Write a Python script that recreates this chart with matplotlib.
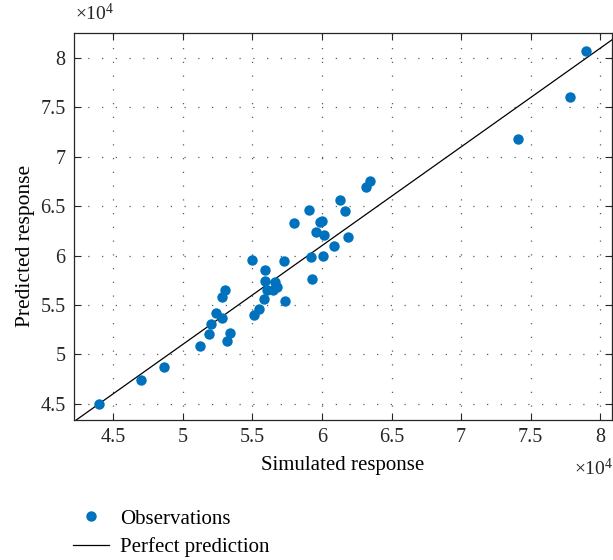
import numpy as np
import matplotlib
matplotlib.use("Agg")
import matplotlib.pyplot as plt
from matplotlib.lines import Line2D

# ── Dados ─────────────────────────────────────────────────────────────────────

simulated = np.array([
    4.400, 4.700, 4.864, 5.121, 5.186, 5.203, 5.239, 5.281, 5.279, 5.305,
    5.317, 5.343, 5.500, 5.514, 5.546, 5.590, 5.590, 5.587, 5.607, 5.660,
    5.677, 5.649, 5.731, 5.733, 5.799, 5.925, 5.927, 5.910, 5.960, 5.984,
    5.998, 6.012, 6.010, 6.089, 6.190, 6.131, 6.169, 6.319, 6.348, 7.407,
    7.784, 7.896,
]) * 1e4

predicted = np.array([
    4.500, 4.740, 4.875, 5.080, 5.210, 5.310, 5.420, 5.370, 5.577, 5.654,
    5.130, 5.220, 5.958, 5.400, 5.455, 5.858, 5.742, 5.560, 5.652, 5.737,
    5.686, 5.647, 5.941, 5.537, 6.326, 5.985, 5.764, 6.464, 6.242, 6.344,
    6.350, 6.204, 5.995, 6.096, 6.192, 6.559, 6.447, 6.697, 6.757, 7.179,
    7.604, 8.070,
]) * 1e4

# reta "perfect prediction" como aparece no original
line_x = [4.0e4, 8.5e4]
line_y = [4.1e4, 8.6e4]

x_ticks = [4.5e4, 5e4, 5.5e4, 6e4, 6.5e4, 7e4, 7.5e4, 8e4]
y_ticks = [4.5e4, 5e4, 5.5e4, 6e4, 6.5e4, 7e4, 7.5e4, 8e4]
tick_labels = ["4.5", "5", "5.5", "6", "6.5", "7", "7.5", "8"]

# ── Estilo ────────────────────────────────────────────────────────────────────

BLUE = "#0072BD"
FG = "#262626"

plt.rcParams.update({
    "font.family": ["Liberation Serif", "DejaVu Serif"],
    "font.size": 14.5,
    "mathtext.fontset": "custom",
    "mathtext.rm": "Liberation Serif",
    "mathtext.it": "Liberation Serif:italic",
})

fig = plt.figure(figsize=(6.13, 5.6), dpi=100)
ax = fig.add_axes([74 / 613, 1 - 420 / 560, 538 / 613, 387 / 560])

ax.plot(simulated, predicted, "o", color=BLUE, markersize=7.5,
        markeredgewidth=0, zorder=3)
ax.plot(line_x, line_y, color="black", linewidth=0.9, zorder=2)

ax.set_xlim(4.219e4, 8.084e4)
ax.set_ylim(4.335e4, 8.253e4)
ax.set_xticks(x_ticks)
ax.set_xticklabels(tick_labels)
ax.set_yticks(y_ticks)
ax.set_yticklabels(tick_labels)

ax.tick_params(direction="in", length=5, width=0.8, colors=FG,
               top=True, right=True, labelsize=14.5, pad=6)
for s in ax.spines.values():
    s.set_color(FG)
    s.set_linewidth(0.9)

ax.grid(True, linestyle=(0, (1, 10)), linewidth=0.9, color=FG, alpha=0.75)
ax.set_axisbelow(True)

ax.set_xlabel("Simulated response", fontsize=15, labelpad=6)
ax.set_ylabel("Predicted response", fontsize=15.5)
ax.yaxis.set_label_coords(-0.073, (420 - 246) / 387)

fig.text(75 / 613, 1 - 13 / 560, r"$\times10^{4}$", fontsize=14,
         ha="left", va="center", color=FG)
fig.text(613 / 613, 1 - 469 / 560, r"$\times10^{4}$", fontsize=14,
         ha="right", va="center", color=FG)

handles = [
    Line2D([], [], marker="o", linestyle="none", color=BLUE,
           markersize=7.5, markeredgewidth=0),
    Line2D([], [], color="black", linewidth=0.9),
]
fig.legend(handles, ["Observations", "Perfect prediction"],
           loc="upper left", bbox_to_anchor=(73 / 613, 1 - 509 / 560),
           frameon=False, fontsize=15, handlelength=1.75,
           handletextpad=0.5, labelspacing=0.4, borderpad=0,
           borderaxespad=0)

fig.savefig("out.png", dpi=100)
